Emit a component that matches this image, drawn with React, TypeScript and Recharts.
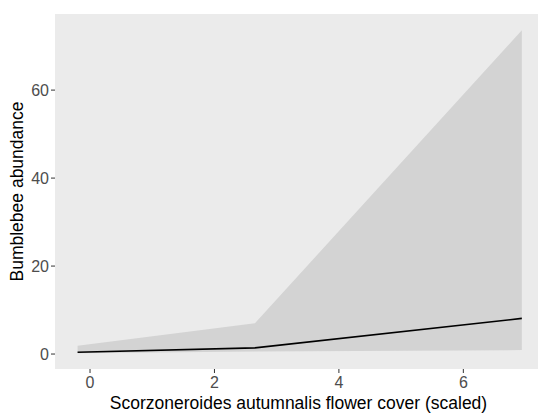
import { ComposedChart, Area, Line, XAxis, YAxis, CartesianGrid, Label } from 'recharts';

// fitted abundance along scaled flower cover, with its confidence band
const cover = [-0.2, 2.65, 6.94];
const fitted = [0.4, 1.4, 8.1];
const lowerCI = [0.2, 0.6, 0.9];
const upperCI = [1.9, 7.0, 73.6];

const xTicks = [0, 2, 4, 6];
const yTicks = [0, 20, 40, 60];

const data = cover.map((x, i) => ({
  x,
  fit: fitted[i],
  band: [lowerCI[i], upperCI[i]],
}));

const FONT = '"Liberation Sans", Arial, sans-serif';
const tickStyle = { fontSize: 16, fill: '#4d4d4d', fontFamily: FONT };
const titleStyle = { fontSize: 17.5, fill: '#000', fontFamily: FONT };

export default function App() {
  return (
    <div style={{ position: 'absolute', left: 0, top: 0, background: '#fff' }}>
      <ComposedChart
        width={539}
        height={417}
        data={data}
        margin={{ top: 14, right: 1, left: 0, bottom: 0 }}
      >
        <CartesianGrid horizontal={false} vertical={false} stroke="none" fill="#ebebeb" />
        <XAxis
          type="number"
          dataKey="x"
          domain={[-0.563, 7.2]}
          ticks={xTicks}
          allowDataOverflow
          height={48}
          axisLine={false}
          tickLine={{ stroke: '#333333' }}
          tickSize={4}
          tickMargin={4}
          tick={tickStyle}
        >
          <Label
            value="Scorzoneroides autumnalis flower cover (scaled)"
            position="center"
            dx={2}
            dy={10}
            style={titleStyle}
          />
        </XAxis>
        <YAxis
          type="number"
          domain={[-3.4, 77.3]}
          ticks={yTicks}
          allowDataOverflow
          width={55}
          axisLine={false}
          tickLine={{ stroke: '#333333' }}
          tickSize={4}
          tickMargin={2}
          tick={tickStyle}
        >
          <Label
            value="Bumblebee abundance"
            position="center"
            angle={-90}
            dx={-11}
            style={{ ...titleStyle, textAnchor: 'middle' }}
          />
        </YAxis>
        <Area
          dataKey="band"
          type="linear"
          stroke="none"
          fill="#d3d3d3"
          fillOpacity={1}
          isAnimationActive={false}
        />
        <Line
          dataKey="fit"
          type="linear"
          stroke="#000"
          strokeWidth={1.6}
          dot={false}
          isAnimationActive={false}
        />
      </ComposedChart>
    </div>
  );
}
